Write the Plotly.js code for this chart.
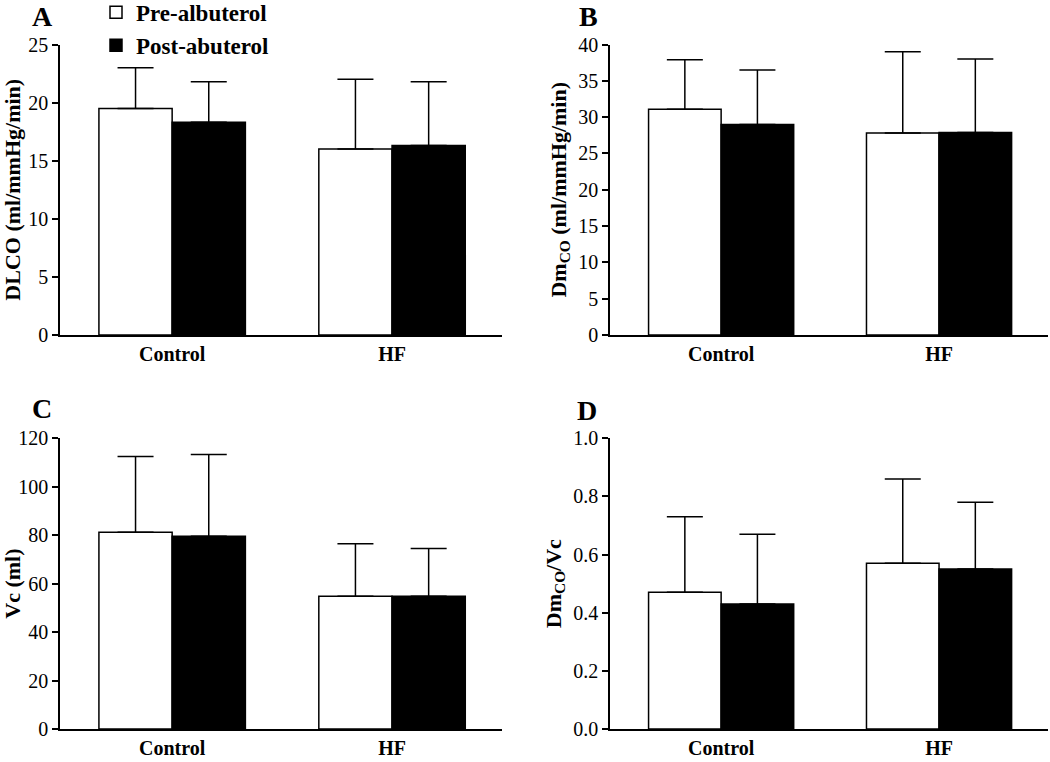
<!DOCTYPE html>
<html>
<head>
<meta charset="utf-8">
<script src="https://cdn.plot.ly/plotly-3.0.1.min.js"></script>
<style>
  body { margin: 0; background: #fff; }
  #chart { width: 1050px; height: 762px; }
</style>
</head>
<body>
<div id="chart"></div>
<script>
var groups = ['Control', 'HF'];

// A: DLCO
var dlcoPre = [19.5, 16.0];
var dlcoPreSd = [3.5, 6.0];
var dlcoPost = [18.3, 16.3];
var dlcoPostSd = [3.5, 5.5];

// B: DmCO
var dmPre = [31.1, 27.8];
var dmPreSd = [6.8, 11.2];
var dmPost = [29.0, 27.9];
var dmPostSd = [7.5, 10.1];

// C: Vc
var vcPre = [81.2, 54.8];
var vcPreSd = [31.3, 21.7];
var vcPost = [79.6, 54.8];
var vcPostSd = [33.7, 19.7];

// D: DmCO/Vc
var ratioPre = [0.47, 0.57];
var ratioPreSd = [0.26, 0.29];
var ratioPost = [0.43, 0.55];
var ratioPostSd = [0.24, 0.23];

var serif = 'Liberation Serif, Times New Roman, serif';

function barTrace(y, sd, name, fill, xa, ya, showLegend) {
    return {
        type: 'bar',
        x: groups,
        y: y,
        name: name,
        legendgroup: name,
        showlegend: showLegend,
        xaxis: xa,
        yaxis: ya,
        marker: {color: fill, line: {color: '#000', width: 1.5}},
        error_y: {
            type: 'data',
            symmetric: false,
            array: sd,
            arrayminus: [0, 0],
            color: '#000',
            thickness: 1.5,
            width: 18
        }
    };
}

var data = [
    barTrace(dlcoPre, dlcoPreSd, 'Pre-albuterol', '#fff', 'x', 'y', true),
    barTrace(dlcoPost, dlcoPostSd, 'Post-abuterol', '#000', 'x', 'y', true),
    barTrace(dmPre, dmPreSd, 'Pre-albuterol', '#fff', 'x2', 'y2', false),
    barTrace(dmPost, dmPostSd, 'Post-abuterol', '#000', 'x2', 'y2', false),
    barTrace(vcPre, vcPreSd, 'Pre-albuterol', '#fff', 'x3', 'y3', false),
    barTrace(vcPost, vcPostSd, 'Post-abuterol', '#000', 'x3', 'y3', false),
    barTrace(ratioPre, ratioPreSd, 'Pre-albuterol', '#fff', 'x4', 'y4', false),
    barTrace(ratioPost, ratioPostSd, 'Post-abuterol', '#000', 'x4', 'y4', false)
];

function xAxis(domain, anchor) {
    return {
        domain: domain,
        anchor: anchor,
        range: [-0.51, 1.5],
        showline: true,
        linecolor: '#000',
        linewidth: 1.5,
        ticks: '',
        showgrid: false,
        zeroline: false,
        ticklabelstandoff: 0,
        tickfont: {family: serif, size: 20, weight: 'bold', color: '#000'}
    };
}

function yAxis(domain, anchor, range, dtick, title, fmt) {
    return {
        domain: domain,
        anchor: anchor,
        range: range,
        dtick: dtick,
        tickformat: fmt || '',
        showline: true,
        linecolor: '#000',
        linewidth: 1.5,
        ticks: 'outside',
        ticklen: 6,
        tickwidth: 1.5,
        tickcolor: '#000',
        showgrid: false,
        zeroline: false,
        tickfont: {family: serif, size: 20, color: '#000'},
        title: {text: title, standoff: 6, font: {family: serif, size: 22, weight: 'bold', color: '#000'}}
    };
}

var xLeft = [60 / 1050, 502 / 1050];
var xRight = [610 / 1050, 1048 / 1050];
var yTop = [1 - 335 / 762, 1 - 44.5 / 762];
var yBot = [1 - 729 / 762, 1 - 438.3 / 762];

var layout = {
    width: 1050,
    height: 762,
    margin: {l: 0, r: 0, t: 0, b: 0, autoexpand: false},
    paper_bgcolor: '#fff',
    plot_bgcolor: 'rgba(0,0,0,0)',
    barmode: 'group',
    bargap: 0.334,
    bargroupgap: 0,
    font: {family: serif, color: '#000'},
    xaxis: xAxis(xLeft, 'y'),
    yaxis: yAxis(yTop, 'x', [0, 25], 5, 'DLCO (ml/mmHg/min)'),
    xaxis2: xAxis(xRight, 'y2'),
    yaxis2: yAxis(yTop, 'x2', [0, 40], 5, 'Dm<sub>CO</sub> (ml/mmHg/min)'),
    xaxis3: xAxis(xLeft, 'y3'),
    yaxis3: yAxis(yBot, 'x3', [0, 120], 20, 'Vc (ml)'),
    xaxis4: xAxis(xRight, 'y4'),
    yaxis4: yAxis(yBot, 'x4', [0, 1.0], 0.2, 'Dm<sub>CO</sub>/Vc', '.1f'),
    legend: {
        x: 96 / 1050,
        y: 1.012,
        xanchor: 'left',
        yanchor: 'top',
        bgcolor: 'rgba(0,0,0,0)',
        font: {family: serif, size: 23, weight: 'bold', color: '#000'},
        tracegroupgap: 0
    },
    annotations: [
        {text: 'A', x: 42 / 1050, y: 1},
        {text: 'B', x: 588 / 1050, y: 1},
        {text: 'C', x: 42 / 1050, y: 1 - 392 / 762},
        {text: 'D', x: 587 / 1050, y: 1 - 394 / 762}
    ].map(function (a) {
        a.xref = 'paper';
        a.yref = 'paper';
        a.xanchor = 'center';
        a.yanchor = 'top';
        a.borderpad = 0;
        a.showarrow = false;
        a.font = {family: serif, size: 28, weight: 'bold', color: '#000'};
        return a;
    })
};

Plotly.newPlot('chart', data, layout, {displayModeBar: false});
</script>
</body>
</html>
